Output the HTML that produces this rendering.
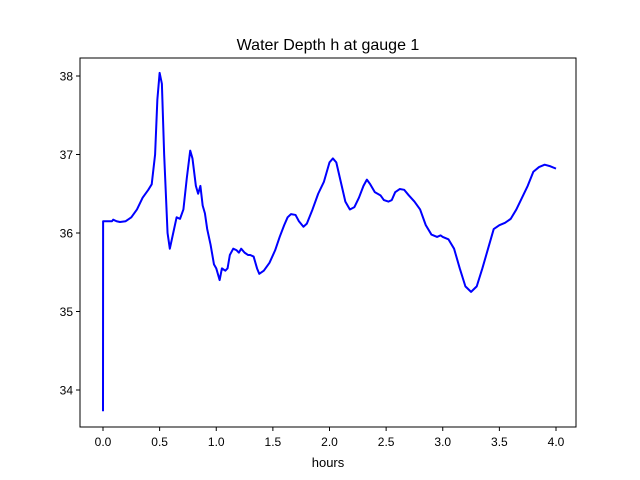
<!DOCTYPE html>
<html><head><meta charset="utf-8">
<style>body{margin:0;background:#fff}svg{display:block;font-family:"Liberation Sans","DejaVu Sans",sans-serif}</style>
</head><body>
<svg id="chart" width="640" height="480" viewBox="0 0 640 480">
<rect width="640" height="480" fill="#fff"/>
<text x="328" y="50" font-size="16" text-anchor="middle">Water Depth h at gauge 1</text>
<g id="plot"></g>
<rect x="80" y="58" width="496" height="369" fill="none" stroke="#000" stroke-width="1"/>
<text x="328" y="467" font-size="13" text-anchor="middle">hours</text>
</svg>
<script>
const hours=[0,0.001,0.08,0.09,0.12,0.15,0.2,0.25,0.3,0.35,0.4,0.43,0.46,0.48,0.5,0.52,0.54,0.57,0.59,0.62,0.65,0.68,0.71,0.74,0.77,0.79,0.82,0.84,0.86,0.88,0.9,0.92,0.95,0.98,1.0,1.03,1.05,1.08,1.1,1.12,1.15,1.18,1.2,1.22,1.25,1.28,1.3,1.33,1.36,1.38,1.42,1.47,1.52,1.56,1.6,1.63,1.66,1.7,1.73,1.77,1.8,1.85,1.9,1.95,2.0,2.03,2.06,2.1,2.14,2.18,2.22,2.26,2.3,2.33,2.36,2.4,2.45,2.48,2.52,2.55,2.58,2.62,2.66,2.7,2.75,2.8,2.85,2.9,2.95,2.98,3.0,3.05,3.1,3.15,3.2,3.25,3.3,3.35,3.4,3.45,3.5,3.55,3.6,3.65,3.7,3.75,3.8,3.85,3.9,3.95,4.0];
const depth=[33.73,36.15,36.15,36.17,36.15,36.14,36.15,36.2,36.3,36.45,36.55,36.62,37.0,37.7,38.04,37.9,37.0,36.0,35.8,36.0,36.2,36.18,36.3,36.7,37.05,36.95,36.6,36.5,36.6,36.35,36.25,36.05,35.85,35.6,35.55,35.4,35.55,35.52,35.55,35.72,35.8,35.78,35.75,35.8,35.75,35.72,35.72,35.7,35.55,35.48,35.52,35.62,35.78,35.95,36.1,36.2,36.24,36.23,36.15,36.08,36.12,36.3,36.5,36.65,36.9,36.95,36.9,36.65,36.4,36.3,36.33,36.45,36.6,36.68,36.62,36.52,36.48,36.42,36.4,36.42,36.52,36.56,36.55,36.48,36.4,36.3,36.1,35.98,35.95,35.97,35.95,35.92,35.8,35.55,35.32,35.25,35.32,35.55,35.8,36.05,36.1,36.13,36.18,36.3,36.45,36.6,36.78,36.84,36.87,36.85,36.82];
const xTicks=[0,0.5,1,1.5,2,2.5,3,3.5,4];
const xTickLabels=["0.0","0.5","1.0","1.5","2.0","2.5","3.0","3.5","4.0"];
const yTicks=[34,35,36,37,38];
const yTickLabels=["34","35","36","37","38"];
const X=v=>103+113.25*v, Y=v=>233-78.5*(v-36);
const ns="http://www.w3.org/2000/svg", g=document.getElementById('plot');
function mk(t,a){const e=document.createElementNS(ns,t);for(const k in a)e.setAttribute(k,a[k]);g.appendChild(e);return e;}
xTicks.forEach((t,i)=>{
 const l=mk('line',{x1:X(t),x2:X(t),y1:427,y2:431,stroke:'#000'});
 
 
 const s=mk('text',{x:X(t),y:446,'font-size':12,'text-anchor':'middle'});s.textContent=xTickLabels[i];
 
 
});
yTicks.forEach((t,i)=>{
 const l=mk('line',{x1:76,x2:80,y1:Y(t),y2:Y(t),stroke:'#000'});
 
 
 const s=mk('text',{x:73,y:Y(t)+4.5,'font-size':12,'text-anchor':'end'});s.textContent=yTickLabels[i];
 
 
});
const p=mk('polyline',{points:hours.map((h,i)=>X(h)+','+Y(depth[i])).join(' '),fill:'none',stroke:'#0000ff','stroke-width':2,'stroke-linejoin':'round'});


</script>
</body></html>
